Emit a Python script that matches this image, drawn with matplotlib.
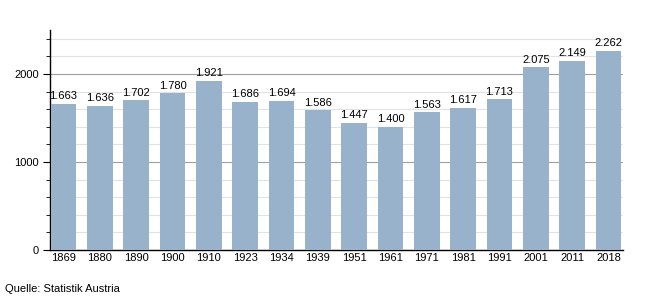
import matplotlib.pyplot as plt
from matplotlib.ticker import MultipleLocator

years = ["1869", "1880", "1890", "1900", "1910", "1923", "1934", "1939",
         "1951", "1961", "1971", "1981", "1991", "2001", "2011", "2018"]
population = [1663, 1636, 1702, 1780, 1921, 1686, 1694, 1586,
              1447, 1400, 1563, 1617, 1713, 2075, 2149, 2262]

plt.rcParams['font.family'] = ['Liberation Sans', 'DejaVu Sans']

fig = plt.figure(figsize=(6.5, 3), dpi=100)
ax = fig.add_axes([0.077, 0.167, 0.882, 0.733])

x = range(len(years))
bars = ax.bar(x, population, width=0.70, color='#98b2cc', zorder=3)

for i, v in enumerate(population):
    lbl = "{:,}".format(v).replace(',', '.')
    ax.text(i, v + 30, lbl, ha='center', va='bottom', fontsize=8, color='black', zorder=4)

ax.set_xlim(-0.37, len(years) - 0.59)
ax.set_ylim(0, 2500)
ax.set_xticks(list(x))
ax.set_xticklabels(years, fontsize=8)
ax.tick_params(axis='x', length=0, pad=2)

ax.yaxis.set_major_locator(MultipleLocator(1000))
ax.yaxis.set_minor_locator(MultipleLocator(200))
ax.tick_params(axis='y', which='major', length=5, labelsize=8, pad=3)
ax.tick_params(axis='y', which='minor', length=3)

ax.grid(axis='y', which='major', color='#a0a0a0', linewidth=0.8, zorder=0)
ax.grid(axis='y', which='minor', color='#e2e2e2', linewidth=0.8, zorder=0)

for s in ['top', 'right']:
    ax.spines[s].set_visible(False)
ax.spines['left'].set_linewidth(1.0)
ax.spines['bottom'].set_linewidth(1.0)

fig.text(5 / 650, 1 - 289 / 300, "Quelle: Statistik Austria", fontsize=8, va='center', ha='left')

fig.savefig('out.png', dpi=100)
